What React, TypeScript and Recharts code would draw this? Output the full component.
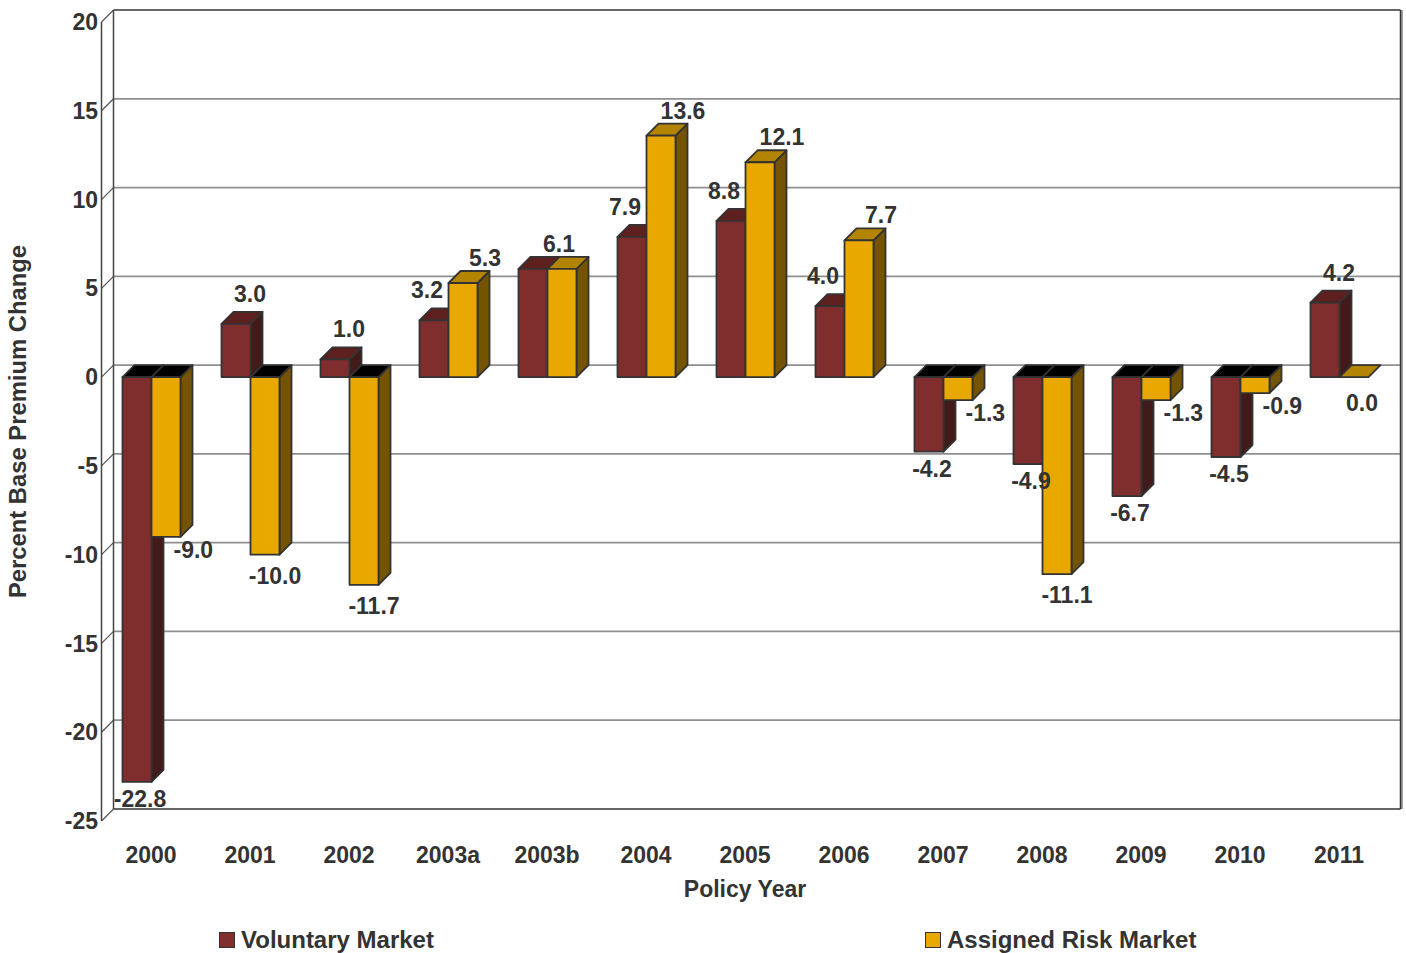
import React from 'react';
import { ComposedChart, Bar, XAxis, YAxis, CartesianGrid, LabelList, Legend } from 'recharts';

// ---------- data ----------
const categories = ['2000', '2001', '2002', '2003a', '2003b', '2004', '2005', '2006', '2007', '2008', '2009', '2010', '2011'];
const voluntaryMarket = [-22.8, 3.0, 1.0, 3.2, 6.1, 7.9, 8.8, 4.0, -4.2, -4.9, -6.7, -4.5, 4.2];
const assignedRiskMarket = [-9.0, -10.0, -11.7, 5.3, 6.1, 13.6, 12.1, 7.7, -1.3, -11.1, -1.3, -0.9, 0.0];
const yTicks = [-25, -20, -15, -10, -5, 0, 5, 10, 15, 20];
const seriesNames = ['Voluntary Market', 'Assigned Risk Market'];
const xTitle = 'Policy Year';
const yTitle = 'Percent Base Premium Change';

const data = categories.map((year, i) => ({
  year,
  voluntary: voluntaryMarket[i],
  assigned: assignedRiskMarket[i],
}));

// ---------- style ----------
const FONT = '"Liberation Sans", Arial, Helvetica, sans-serif';
const TEXT = '#333333';
const OUTLINE = '#333333';
const DEPTH = 12;
const VOL = { front: '#7f2d2d', top: '#5e1f1f', side: '#431a1a' };
const ASG = { front: '#e8a800', top: '#b38400', side: '#745400' };

const tickStyle = { fill: TEXT, fontSize: 23, fontWeight: 700, fontFamily: FONT };
const labelStyle = { fill: TEXT, fontSize: 23, fontWeight: 700, fontFamily: FONT };

const fmt = (v: number) => v.toFixed(1);

// ---------- 3D bar shape ----------
const makeBarShape = (key: string, faces: { front: string; top: string; side: string }) => (props: any) => {
  const { x, y, width, height, payload } = props;
  if (x == null || y == null) return null;
  const v = payload ? payload[key] : 0;
  const h = height || 0;
  const top = Math.min(y, y + h);
  const bot = Math.max(y, y + h);
  const w = width;
  const d = DEPTH;
  const topFill = v < 0 ? '#000000' : faces.top;
  const side = `${x + w},${top} ${x + w + d},${top - d} ${x + w + d},${bot - d} ${x + w},${bot}`;
  const topFace = `${x},${top} ${x + d},${top - d} ${x + w + d},${top - d} ${x + w},${top}`;
  const hasBody = bot - top > 0.5;
  return (
    <g>
      {hasBody && <polygon points={side} fill={faces.side} stroke={OUTLINE} strokeWidth={1.8} strokeLinejoin="round" />}
      <polygon points={topFace} fill={topFill} stroke={OUTLINE} strokeWidth={1.8} strokeLinejoin="round" />
      {hasBody && (
        <rect x={x} y={top} width={w} height={bot - top} fill={faces.front} stroke={OUTLINE} strokeWidth={1.8} strokeLinejoin="round" />
      )}
    </g>
  );
};

const volShape = makeBarShape('voluntary', VOL);
const asgShape = makeBarShape('assigned', ASG);

// ---------- value labels ----------
const getBox = (props: any) => {
  const vb = props.viewBox && props.viewBox.width != null ? props.viewBox : props;
  const x = Number(vb.x);
  const y = Number(vb.y);
  const width = Number(vb.width);
  const height = Number(vb.height) || 0;
  return { x, y, width, top: Math.min(y, y + height), bot: Math.max(y, y + height) };
};

const volLabel = (props: any) => {
  const i = props.index;
  const v = voluntaryMarket[i];
  const a = assignedRiskMarket[i];
  const { x, width, top, bot } = getBox(props);
  const cx = x + width / 2;
  if (v > 0) {
    if (Math.abs(a - v) < 0.05) return null; // merged with the other series' label
    const lx = cx + (a > v ? -7 : 14);
    return (
      <text x={lx} y={top - 30} dy="0.35em" textAnchor="middle" {...labelStyle}>
        {fmt(v)}
      </text>
    );
  }
  return (
    <text x={cx + 3} y={bot + 17} dy="0.35em" textAnchor="middle" {...labelStyle}>
      {fmt(v)}
    </text>
  );
};

const asgLabel = (props: any) => {
  const i = props.index;
  const v = voluntaryMarket[i];
  const a = assignedRiskMarket[i];
  const { x, width, top, bot } = getBox(props);
  const cx = x + width / 2;
  if (a > 0) {
    const lx = Math.abs(a - v) < 0.05 ? cx - 3 : cx + 22;
    return (
      <text x={lx} y={top - 25} dy="0.35em" textAnchor="middle" {...labelStyle}>
        {fmt(a)}
      </text>
    );
  }
  if (a === 0) {
    return (
      <text x={cx + 8} y={bot + 26} dy="0.35em" textAnchor="middle" {...labelStyle}>
        {fmt(a)}
      </text>
    );
  }
  if (v < a) {
    // neighbouring bar reaches deeper: move label to the right of the prism
    return (
      <text x={x + 22} y={bot + 13} dy="0.35em" textAnchor="start" {...labelStyle}>
        {fmt(a)}
      </text>
    );
  }
  return (
    <text x={cx + 10} y={bot + 21} dy="0.35em" textAnchor="middle" {...labelStyle}>
      {fmt(a)}
    </text>
  );
};

// ---------- 3D frame / gridlines ----------
const gridLine = (props: any) => {
  const { x1, y1, x2, x, y, width, height, index } = props;
  const d = DEPTH;
  const gx = x != null ? x : x1;
  const gw = width != null ? width : x2 - x1;
  const isTop = y != null && Math.abs(y1 - y) < 0.5;
  const isBottom = y != null && height != null && Math.abs(y1 - (y + height)) < 0.5;
  const edge = isTop || isBottom;
  return (
    <g key={`grid-${index}-${y1}`}>
      <line x1={x1} y1={y1} x2={x1 + d} y2={y1 - d} stroke="#555555" strokeWidth={1.2} />
      <line
        x1={x1 + d}
        y1={y1 - d}
        x2={x2 + d}
        y2={y1 - d}
        stroke={edge ? '#333333' : '#8f8f8f'}
        strokeWidth={edge ? 1.5 : 1.8}
      />
      {isTop && (
        <g>
          <line x1={gx} y1={y} x2={gx} y2={y + height} stroke="#444444" strokeWidth={1.5} />
          <line x1={gx + d} y1={y - d} x2={gx + d} y2={y + height - d} stroke="#444444" strokeWidth={1.5} />
          <line x1={gx + gw + d + 1.5} y1={y - d} x2={gx + gw + d + 1.5} y2={y + height - d} stroke="#a0a0a0" strokeWidth={2} />
          <line x1={gx + gw + d} y1={y - d} x2={gx + gw + d} y2={y + height - d} stroke="#333333" strokeWidth={1.5} />
        </g>
      )}
    </g>
  );
};

// ---------- legend ----------
const legendX = [219, 925];
const renderLegend = (props: any) => {
  const payload = props.payload || [];
  return (
    <div style={{ position: 'relative', width: '100%', height: 24 }}>
      {payload.map((p: any, i: number) => {
        const pos = seriesNames.indexOf(p.value);
        return (
          <div
            key={`leg-${i}`}
            style={{
              position: 'absolute',
              left: legendX[pos >= 0 ? pos : i] ?? 0,
              top: 0,
              height: 24,
              display: 'flex',
              alignItems: 'center',
              whiteSpace: 'nowrap',
            }}
          >
            <span
              style={{
                display: 'inline-block',
                width: 16,
                height: 16,
                boxSizing: 'border-box',
                background: p.color,
                border: `1.5px solid ${OUTLINE}`,
                marginRight: 6,
              }}
            />
            <span style={{ fontFamily: FONT, fontSize: 24, fontWeight: 700, color: TEXT, lineHeight: '24px' }}>{p.value}</span>
          </div>
        );
      })}
    </div>
  );
};

export default function App() {
  return (
    <div style={{ width: 1406, height: 953, background: '#ffffff' }}>
      <style>{'html, body { margin: 0; padding: 0; background: #ffffff; }'}</style>
      <ComposedChart
        width={1406}
        height={953}
        data={data}
        margin={{ top: 22, right: 17.5, bottom: 56, left: 0 }}
        barGap={0}
        barCategoryGap={0}
      >
        <CartesianGrid vertical={false} horizontal={gridLine} />
        <XAxis
          dataKey="year"
          type="category"
          axisLine={false}
          tickLine={false}
          tickSize={0}
          tickMargin={26}
          interval={0}
          height={76}
          tick={tickStyle}
          label={{ value: xTitle, position: 'insideBottom', offset: 0, ...labelStyle }}
        />
        <YAxis
          type="number"
          domain={[-25, 20]}
          ticks={yTicks}
          interval={0}
          width={101.5}
          axisLine={false}
          tickLine={false}
          tickSize={0}
          tickMargin={3.5}
          tick={tickStyle}
          allowDataOverflow
          label={{
            value: yTitle,
            angle: -90,
            position: 'insideLeft',
            offset: 17.5,
            style: { textAnchor: 'middle' },
            ...labelStyle,
            fontSize: 23.8,
          }}
        />
        <Legend
          layout="horizontal"
          verticalAlign="middle"
          align="center"
          content={renderLegend}
          wrapperStyle={{ left: 0, top: 928, width: 1406, height: 24, right: 'auto', bottom: 'auto' }}
        />
        <Bar dataKey="voluntary" name={seriesNames[0]} fill={VOL.front} barSize={29} shape={volShape} isAnimationActive={false}>
          <LabelList dataKey="voluntary" content={volLabel} />
        </Bar>
        <Bar dataKey="assigned" name={seriesNames[1]} fill={ASG.front} barSize={29} shape={asgShape} isAnimationActive={false}>
          <LabelList dataKey="assigned" content={asgLabel} />
        </Bar>
      </ComposedChart>
    </div>
  );
}
